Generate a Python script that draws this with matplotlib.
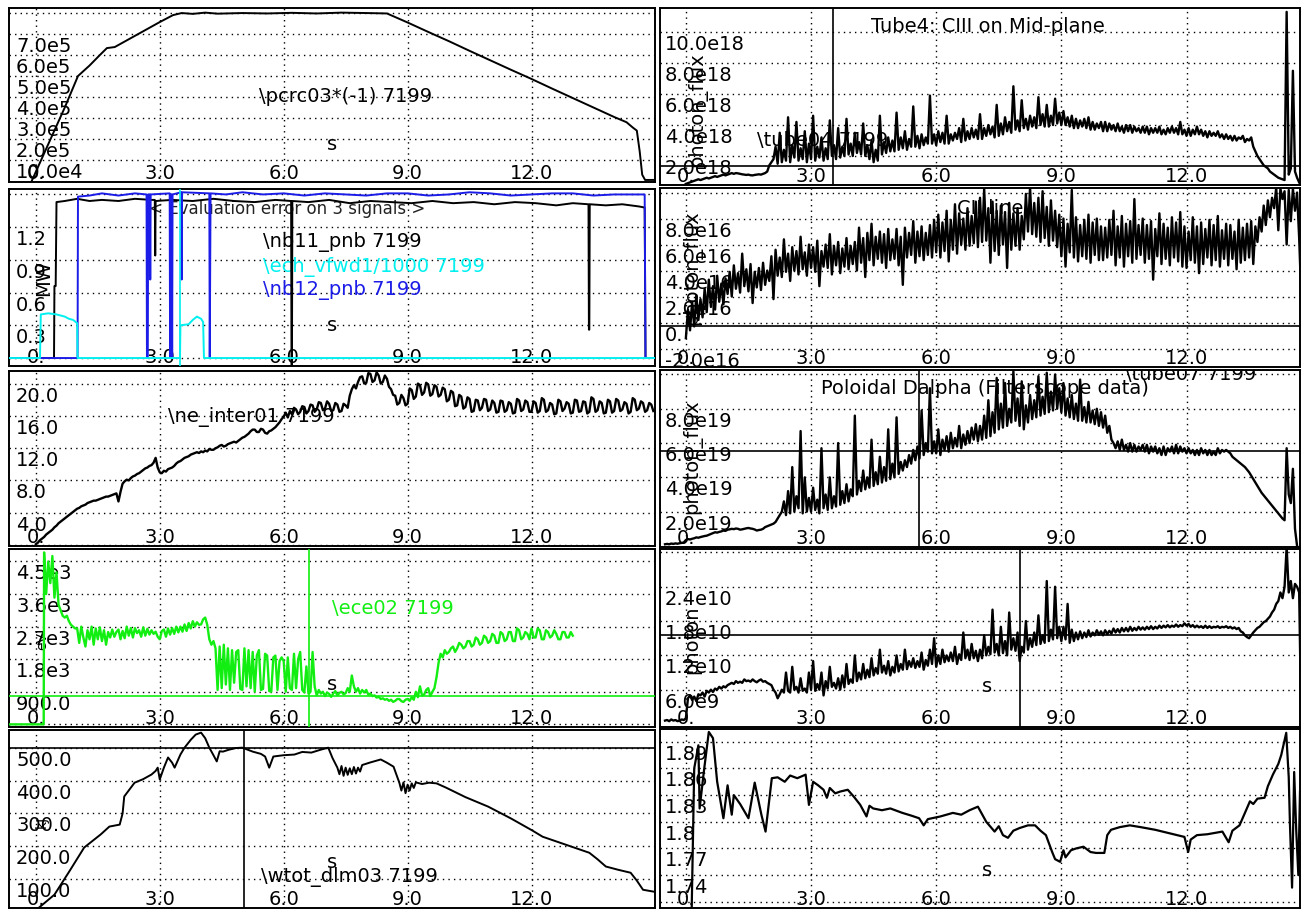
import numpy as np
import matplotlib.pyplot as plt
from matplotlib import transforms

plt.rcParams['font.family'] = ['DejaVu Sans']
plt.rcParams['font.size'] = 14

# ---------------- data ----------------
grid_t = [0, 3, 6, 9, 12]
t_labels = ['0.', '3.0', '6.0', '9.0', '12.0']
step = 0.05  # sampling of the noisy traces (s)

# row 1 left: \pcrc03*(-1)  (units 1e5)
pcrc = [(-0.1, 0), (0.3, 1.75), (0.7, 3.5), (1.02, 5.0), (1.3, 5.5), (1.55, 6.0),
        (1.72, 6.33), (1.91, 6.38), (2.35, 6.86), (3.0, 7.57), (3.32, 7.9), (3.53, 8.0),
        (3.8, 7.96), (4.1, 8.02), (4.4, 7.97), (5.0, 8.0), (5.6, 7.98), (6.2, 8.01),
        (6.8, 7.98), (7.4, 8.02), (8.0, 8.0), (8.5, 7.98), (9.0, 7.55), (9.5, 7.1),
        (10.0, 6.66), (10.5, 6.2), (11.0, 5.75), (11.5, 5.3), (12.0, 4.86), (12.5, 4.4),
        (13.0, 3.95), (13.5, 3.5), (14.0, 3.05), (14.3, 2.8), (14.45, 2.55), (14.55, 2.4),
        (14.62, 1.4), (14.68, 0.3), (14.75, 0.05), (15.0, 0.05)]
pcrc_ticks = [1, 2, 3, 4, 5, 6, 7, 8]
pcrc_ticklabels = ['10.0e4', '2.0e5', '3.0e5', '4.0e5', '5.0e5', '6.0e5', '7.0e5', '']

# row 2 left: beams (MW)
nb11 = [(-0.65, 0), (0.44, 0), (0.45, 0.66), (0.48, 0.66), (0.5, 1.43), (0.7, 1.44),
        (1.0, 1.46), (1.3, 1.44), (1.6, 1.45), (2.0, 1.44), (2.4, 1.46), (2.8, 1.45),
        (2.88, 1.45), (2.89, 0.94), (2.9, 1.44), (3.3, 1.45), (3.8, 1.44), (4.3, 1.46),
        (4.8, 1.44), (5.3, 1.43), (5.8, 1.45), (6.18, 1.44), (6.19, -0.1), (6.2, -0.1),
        (6.21, 1.44), (6.6, 1.43), (7.1, 1.45), (7.6, 1.42), (8.1, 1.44), (8.6, 1.43),
        (9.1, 1.42), (9.6, 1.44), (10.1, 1.42), (10.6, 1.43), (11.1, 1.41), (11.6, 1.43),
        (12.1, 1.42), (12.6, 1.40), (13.0, 1.42), (13.38, 1.41), (13.39, 0.26),
        (13.4, 0.26), (13.41, 1.41), (13.8, 1.40), (14.2, 1.41), (14.6, 1.39),
        (14.74, 1.38), (14.76, 0), (15.0, 0)]
nb12 = [(-0.65, 0), (1.01, 0), (1.02, 1.48), (1.3, 1.49), (1.6, 1.51), (2.0, 1.49),
        (2.4, 1.51), (2.68, 1.50), (2.69, 0), (2.71, 0), (2.72, 1.50), (2.76, 1.50),
        (2.77, 0.72), (2.78, 1.50), (3.24, 1.51), (3.25, 0), (3.26, 1.50), (3.29, 1.50),
        (3.3, 0), (3.31, 1.50), (3.52, 1.52), (3.53, 0.72), (3.54, 1.52), (4.2, 1.51),
        (4.21, 0), (4.23, 1.51), (4.6, 1.50), (5.0, 1.52), (5.5, 1.50), (6.0, 1.51),
        (6.5, 1.49), (7.0, 1.51), (7.5, 1.50), (8.0, 1.49), (8.5, 1.51), (9.0, 1.51),
        (9.5, 1.49), (10.0, 1.50), (10.5, 1.52), (11.0, 1.51), (11.5, 1.49), (12.0, 1.50),
        (12.5, 1.51), (13.0, 1.51), (13.5, 1.49), (14.0, 1.50), (14.74, 1.50),
        (14.76, 0), (15.0, 0)]
ech = [(-0.65, 0), (0.1, 0), (0.12, 0.40), (0.3, 0.41), (0.5, 0.40), (0.6, 0.39),
       (0.7, 0.38), (0.8, 0.36), (0.9, 0.35), (1.0, 0.32), (1.01, 0), (3.49, 0),
       (3.5, 0.30), (3.7, 0.31), (3.8, 0.35), (3.9, 0.38), (4.0, 0.36), (4.05, 0.33),
       (4.07, 0), (15.0, 0)]
beam_ticks = [0, 0.3, 0.6, 0.9, 1.2, 1.5]
beam_ticklabels = ['', '0.3', '0.6', '0.9', '1.2', '']

# row 3 left: \ne_inter01 from t=0
ne_start = 0.0
ne_vals = [0.1, 0.3, 0.6, 0.8, 1.0, 1.3, 1.5, 1.7, 1.9, 2.2, 2.4, 2.7, 2.9, 3.1, 3.3, 3.5, 3.7, 3.9, 4.1, 4.3,
           4.5, 4.6, 4.8, 4.9, 5.0, 5.2, 5.3, 5.4, 5.5, 5.5, 5.6, 5.7, 5.8, 5.9, 6.0, 6.0, 6.1, 6.2, 6.3, 6.4,
           5.4, 6.6, 7.6, 7.9, 8.1, 8.0, 8.3, 8.5, 8.6, 8.8, 8.9, 9.1, 9.3, 9.5, 9.6, 9.8, 9.9, 10.2, 10.8, 9.6,
           9.0, 8.9, 9.2, 9.1, 9.4, 9.5, 9.6, 9.8, 10.1, 10.3, 10.4, 10.6, 10.8, 10.9, 11.0, 11.2, 11.3, 11.4, 11.5, 11.4,
           11.6, 11.5, 11.7, 11.6, 11.9, 11.8, 11.8, 12.0, 12.1, 12.3, 12.4, 12.2, 12.3, 12.5, 12.6, 12.7, 12.8, 12.7, 12.9, 13.1,
           13.3, 13.4, 13.6, 13.8, 14.1, 14.3, 14.3, 14.0, 14.0, 14.4, 14.3, 13.9, 13.8, 14.1, 14.2, 14.4, 14.6, 14.9, 15.2, 15.6,
           15.9, 16.4, 15.8, 16.6, 16.2, 17.0, 16.8, 16.2, 16.5, 17.2, 17.1, 16.3, 16.6, 17.4, 17.3, 16.5, 16.8, 17.7, 17.6, 16.7,
           16.9, 17.8, 17.5, 16.6, 16.7, 17.6, 17.4, 16.5, 16.6, 17.5, 17.3, 17.0, 18.5, 19.3, 19.8, 19.4, 20.2, 20.8, 20.9, 20.0,
           20.1, 21.3, 21.2, 20.2, 20.4, 21.4, 21.0, 20.0, 20.2, 21.0, 20.6, 19.6, 19.3, 18.6, 18.5, 17.4, 17.6, 18.6, 18.2, 17.3,
           17.5, 19.4, 19.2, 18.1, 18.4, 20.0, 19.8, 18.6, 18.9, 20.1, 19.9, 18.5, 18.7, 19.8, 19.6, 18.4, 18.6, 19.5, 19.3, 17.8,
           18.0, 19.1, 18.9, 17.2, 17.3, 18.6, 18.4, 16.9, 17.1, 18.3, 18.1, 16.5, 16.6, 18.0, 17.9, 16.7, 17.0, 18.1, 18.0, 16.6,
           16.8, 17.9, 17.6, 16.4, 16.5, 17.9, 17.8, 16.5, 16.7, 17.7, 17.5, 16.3, 16.4, 18.1, 17.9, 16.6, 16.8, 17.9, 17.7, 16.5,
           16.5, 17.8, 17.6, 16.4, 16.6, 18.2, 18.0, 16.5, 16.7, 17.6, 17.4, 16.2, 16.3, 18.0, 17.8, 16.6, 16.9, 17.7, 17.5, 16.3,
           16.4, 18.0, 17.9, 16.5, 16.6, 17.8, 17.7, 16.3, 16.5, 18.3, 18.1, 16.5, 16.7, 17.8, 17.6, 16.3, 16.4, 18.0, 17.8, 16.4,
           16.6, 18.1, 17.9, 16.6, 16.8, 17.7, 17.5, 16.3, 16.5, 18.2, 18.0, 16.7, 16.9, 17.8, 17.6, 16.5, 16.7, 17.6, 17.4, 16.6]
ne_ticks = [0, 4, 8, 12, 16, 20]
ne_ticklabels = ['', '4.0', '8.0', '12.0', '16.0', '20.0']

# row 4 left: \ece02 (eV) from t=0.2
ece_pre = [(-0.65, 0), (0.19, 0)]
ece_start = 0.2
ece_vals = [4750, 3600, 4500, 3900, 4650, 3500, 4200, 3300, 3150, 3000, 2950, 3000, 2850, 2750, 2700, 2650,
            2650, 2250, 2700, 2400, 2150, 2600, 2350, 2700, 2200, 2650, 2350, 2680, 2300, 2600, 2200, 2550, 2400, 2620, 2420, 2550,
            2620, 2350, 2580, 2380, 2700, 2450, 2660, 2400, 2660, 2520, 2600, 2420, 2680, 2450, 2640, 2480, 2600, 2500, 2560, 2420,
            2350, 2580, 2620, 2420, 2650, 2480, 2660, 2500, 2700, 2540, 2700, 2560, 2760, 2580, 2800, 2650, 2850, 2700, 2820, 2750,
            2760, 2900, 2950, 2750, 2350, 2200, 2300, 2100, 950, 2150, 1000, 2200, 1100, 2100, 950, 2050, 1150, 2000, 2050, 980,
            950, 2100, 1050, 2050, 1000, 2000, 900, 1900, 2050, 950, 980, 1950, 1900, 920, 900, 1850, 1900, 950, 1750, 1850,
            1750, 900, 1850, 1000, 950, 1950, 1000, 1800, 2000, 950, 880, 1600, 850, 900, 2000, 1050, 800, 950, 850, 900,
            780, 880, 840, 760, 850, 920, 800, 870, 900, 830, 860, 1000, 900, 1350, 1050, 900, 1000, 850, 950, 880,
            950, 820, 850, 780, 800, 740, 760, 700, 720, 680, 700, 650, 680, 620, 650, 700, 700, 640, 620, 680,
            700, 650, 750, 680, 900, 750, 1050, 800, 820, 950, 1000, 780, 900, 1000, 1300, 1700, 1950, 1850, 2050, 1950,
            2000, 2100, 2150, 2000, 2100, 2250, 2200, 2100, 2150, 2300, 2300, 2150, 2200, 2400, 2350, 2200, 2250, 2450, 2400, 2250,
            2300, 2500, 2450, 2250, 2250, 2550, 2500, 2300, 2350, 2550, 2550, 2300, 2300, 2650, 2600, 2350, 2400, 2550, 2500, 2350,
            2650, 2400, 2400, 2650, 2600, 2350, 2350, 2600, 2550, 2400, 2450, 2600, 2500, 2350, 2350, 2550, 2550, 2400, 2400, 2550,
            2450]
ece_ticks = [0, 900, 1800, 2700, 3600, 4500]
ece_ticklabels = ['', '900.0', '1.8e3', '2.7e3', '3.6e3', '4.5e3']

# row 5 left: \wtot_dlm03 (kJ)
wtot = [(-0.65, 0), (0.0, 5), (0.1, 15), (0.45, 52), (0.81, 123), (1.17, 196),
        (1.57, 236), (1.78, 260), (2.03, 266), (2.1, 300), (2.14, 352), (2.39, 394),
        (2.6, 405), (2.8, 419), (2.9, 430), (2.95, 440), (3.0, 404), (3.1, 440),
        (3.2, 471), (3.3, 455), (3.36, 440), (3.5, 480), (3.6, 501), (3.75, 525),
        (3.87, 541), (4.0, 547), (4.1, 530), (4.2, 501), (4.3, 478), (4.38, 459),
        (4.45, 490), (4.53, 489), (4.68, 495), (4.85, 500), (5.0, 501), (5.25, 489),
        (5.45, 482), (5.55, 474), (5.65, 440), (5.75, 474), (6.0, 478), (6.26, 480),
        (6.45, 488), (6.67, 486), (6.9, 495), (7.08, 501), (7.18, 470), (7.3, 440),
        (7.35, 420), (7.4, 445), (7.45, 415), (7.5, 440), (7.55, 418), (7.6, 438),
        (7.65, 420), (7.7, 442), (7.75, 422), (7.8, 440), (7.85, 428), (7.9, 448),
        (8.1, 456), (8.35, 465), (8.5, 455), (8.66, 443), (8.8, 394), (8.85, 370),
        (8.9, 395), (8.95, 362), (9.0, 388), (9.05, 370), (9.1, 392), (9.15, 378),
        (9.2, 395), (9.35, 390), (9.52, 394), (9.7, 392), (9.93, 379), (10.4, 350),
        (10.95, 321), (11.5, 285), (12.02, 248), (12.27, 229), (12.8, 206),
        (13.4, 180), (13.6, 160), (13.8, 138), (14.1, 128), (14.4, 119), (14.55, 95),
        (14.7, 67), (14.97, 61)]
wtot_ticks = [100, 200, 300, 400, 500]
wtot_ticklabels = ['100.0', '200.0', '300.0', '400.0', '500.0']

# row 1 right: Tube4 CIII (1e18) from t=0
ciii_start = 0.0
ciii_vals = [0.2, 0.25, 0.3, 0.35, 0.4, 0.45, 0.5, 0.45, 0.5, 0.55, 0.6, 0.55, 0.6, 0.65, 0.7, 0.65, 0.7, 0.75, 0.8, 0.75,
             0.8, 0.85, 0.9, 0.85, 0.9, 0.88, 0.85, 0.82, 0.8, 0.78, 0.8, 0.76, 0.75, 0.78, 0.8, 0.82, 0.8, 0.85, 0.9, 1.0,
             1.4, 1.6, 1.8, 2.6, 1.5, 3.5, 1.6, 2.4, 1.7, 4.5, 1.6, 2.7, 1.9, 4.2, 1.7, 2.5, 1.8, 3.6, 1.6, 2.8,
             1.8, 4.6, 1.7, 2.6, 1.9, 3.2, 1.7, 2.5, 1.8, 4.3, 2.0, 2.7, 1.8, 3.8, 1.9, 2.6, 2.0, 4.4, 2.1, 2.8,
             2.0, 3.5, 2.2, 2.9, 2.1, 4.1, 2.0, 2.7, 1.8, 3.0, 1.6, 2.4, 1.7, 4.6, 2.1, 2.9, 2.2, 3.2, 2.3, 3.0,
             2.3, 4.8, 2.4, 3.2, 2.5, 3.6, 2.4, 3.1, 2.6, 5.2, 2.6, 3.3, 2.5, 3.4, 2.7, 3.2, 2.8, 5.9, 2.8, 3.4,
             2.7, 3.6, 2.9, 3.5, 2.8, 4.6, 2.8, 3.4, 3.0, 3.5, 3.1, 3.8, 2.9, 4.4, 3.0, 3.6, 3.1, 3.8, 3.2, 3.7,
             3.1, 4.7, 3.1, 3.8, 3.3, 4.0, 3.4, 3.9, 3.2, 5.3, 3.3, 4.1, 3.4, 4.5, 3.6, 4.2, 3.5, 6.5, 3.7, 4.3,
             3.6, 5.6, 3.8, 4.4, 3.7, 4.6, 3.9, 4.5, 3.8, 5.8, 4.0, 4.7, 3.9, 5.3, 3.9, 4.6, 4.0, 5.7, 4.1, 4.8,
             4.0, 4.9, 4.0, 4.5, 3.9, 4.6, 3.8, 4.4, 3.8, 4.3, 3.9, 4.4, 3.8, 4.5, 3.7, 4.2, 3.7, 4.1, 3.8, 4.2,
             3.6, 4.2, 3.6, 4.1, 3.7, 4.0, 3.6, 4.1, 3.6, 3.9, 3.5, 4.0, 3.6, 4.0, 3.5, 3.9, 3.6, 3.8, 3.5, 3.9,
             3.5, 3.9, 3.4, 3.8, 3.5, 3.8, 3.5, 3.9, 3.4, 3.7, 3.4, 3.8, 3.5, 3.9, 3.5, 3.8, 3.4, 4.2, 3.4, 3.7,
             3.3, 3.8, 3.3, 3.7, 3.4, 3.9, 3.4, 3.7, 3.3, 3.6, 3.2, 3.6, 3.3, 3.5, 3.3, 3.6, 3.2, 3.4, 3.1, 3.4,
             3.1, 3.3, 3.0, 3.3, 3.0, 3.2, 3.1, 3.3, 2.9, 3.1, 3.0, 3.2, 2.6, 2.3, 2.0, 1.8, 1.6, 1.4, 1.3, 1.2,
             1.0, 0.9, 0.8, 0.7, 0.6, 0.55, 0.5, 0.45, 11.3, 0.8, 1.2, 7.5, 1.0, 0.6, 0.3]
ciii_ticks = [2, 4, 6, 8, 10]
ciii_ticklabels = ['2.0e18', '4.0e18', '6.0e18', '8.0e18', '10.0e18']

# row 2 right: CII line (1e16) from t=0
cii_start = 0.0
cii_vals = [-1.2, 1.0, -0.6, 1.6, -0.3, 2.1, 0.2, 1.8, 0.4, 2.6, 0.8, 3.3, 1.2, 2.8, 1.0, 3.6, 1.6, 3.0, 1.4, 3.4,
            2.2, 3.9, 2.0, 4.4, 2.6, 3.8, 2.3, 5.3, 2.8, 4.1, 2.4, 4.5, 1.5, 3.9, 2.7, 4.2, 2.5, 4.6, 2.9, 4.0,
            3.2, 5.1, 1.8, 5.6, 3.6, 5.0, 3.5, 6.4, 3.9, 5.3, 3.2, 5.8, 4.0, 5.5, 3.7, 6.6, 4.1, 5.4, 3.6, 6.0,
            4.2, 5.8, 3.9, 6.3, 2.8, 5.5, 4.3, 6.0, 4.2, 6.8, 3.7, 5.9, 4.4, 6.2, 3.8, 5.7, 4.3, 6.5, 4.1, 5.9,
            4.5, 6.2, 4.0, 7.3, 4.6, 6.5, 3.5, 6.9, 4.8, 7.6, 4.4, 6.6, 4.9, 7.0, 4.6, 6.8, 4.2, 7.2, 4.8, 6.4,
            4.9, 7.2, 4.4, 6.6, 2.9, 7.3, 5.0, 6.9, 5.2, 7.8, 4.6, 7.0, 5.1, 7.4, 4.8, 6.9, 5.2, 7.5, 5.0, 7.9,
            5.4, 8.3, 5.0, 7.7, 5.5, 8.6, 4.7, 7.9, 5.6, 9.1, 5.3, 8.4, 6.0, 8.0, 5.6, 8.8, 5.9, 8.2, 6.1, 9.3,
            5.8, 9.6, 6.2, 10.3, 6.3, 8.8, 4.6, 9.3, 5.5, 8.6, 5.2, 9.0, 6.0, 8.5, 4.2, 9.2, 5.6, 8.4, 5.9, 8.8,
            5.6, 8.2, 6.4, 9.9, 7.0, 10.4, 6.8, 9.2, 6.6, 9.6, 6.2, 10.1, 6.5, 8.9, 5.9, 9.4, 6.3, 8.6, 5.8, 8.3,
            5.1, 8.0, 4.3, 7.6, 5.4, 10.2, 5.0, 8.1, 4.7, 7.5, 5.1, 7.9, 4.9, 8.3, 4.6, 7.7, 5.2, 8.0, 4.8, 7.4,
            4.8, 7.3, 5.0, 7.9, 5.2, 8.6, 4.4, 7.4, 5.0, 8.2, 4.3, 7.6, 5.1, 7.8, 4.6, 9.5, 4.9, 7.5, 5.2, 8.0,
            4.6, 7.5, 4.9, 7.8, 3.3, 7.2, 5.1, 8.4, 4.5, 7.6, 4.9, 7.3, 4.4, 8.1, 5.0, 7.7, 4.7, 8.5, 4.3, 7.4,
            4.2, 7.0, 4.8, 8.1, 4.6, 7.4, 3.8, 7.7, 4.5, 7.2, 5.0, 7.9, 4.4, 7.5, 4.8, 8.2, 4.3, 7.1, 4.9, 7.6,
            4.4, 7.5, 4.9, 7.0, 4.1, 7.9, 4.6, 7.3, 4.8, 7.6, 5.0, 7.8, 4.5, 7.4, 6.2, 8.1, 7.0, 9.0, 7.5, 9.4,
            8.1, 9.6, 8.8, 10.4, 7.1, 10.3, 9.5, 10.1, 6.0, 10.2, 7.8, 10.3, 8.6, 10.0, 6.5, 2.0]
cii_tail = [(14.8, -0.2)]
cii_ticks = [-2, 0, 2, 4, 6, 8, 10]
cii_ticklabels = ['-2.0e16', '0.', '2.0e16', '4.0e16', '6.0e16', '8.0e16', '']

# row 3 right: Poloidal Dalpha (1e19) from t=-0.5
dal_start = -0.5
dal_vals = [0.1, 0.12, 0.1, 0.14, 0.12, 0.15, 0.13, 0.16, 0.18, 0.2,
            0.35, 0.4, 0.38, 0.42, 0.45, 0.5, 0.48, 0.52, 0.55, 0.58, 0.6, 0.65, 0.7, 0.75, 0.8, 0.78, 0.82, 0.85, 0.9, 0.88,
            0.95, 0.97, 1.0, 0.98, 1.02, 1.0, 0.95, 0.97, 1.0, 1.03, 1.05, 1.02, 1.0, 0.96, 0.9, 0.93, 0.95, 1.0, 1.1, 1.15,
            1.2, 1.25, 1.3, 1.4, 1.6, 1.8, 2.0, 2.6, 1.8, 3.2, 1.9, 4.6, 2.0, 2.9, 2.2, 6.7, 1.9, 4.0, 2.0, 2.8,
            2.0, 3.4, 2.1, 2.7, 1.9, 5.7, 2.2, 3.0, 2.1, 4.0, 2.2, 2.9, 2.3, 6.0, 2.4, 3.2, 2.5, 3.6, 2.6, 3.3,
            2.9, 7.6, 3.0, 3.8, 3.2, 4.4, 3.3, 4.0, 3.4, 6.2, 3.5, 4.3, 3.6, 5.2, 3.7, 4.6, 3.8, 6.8, 3.9, 4.8,
            4.0, 7.5, 4.2, 4.9, 4.4, 5.0, 4.6, 5.3, 4.8, 5.6, 5.0, 5.8, 5.1, 7.9, 5.3, 6.0, 5.5, 9.2, 5.4, 6.1,
            5.4, 6.8, 5.3, 6.2, 5.6, 6.4, 5.5, 6.6, 5.7, 6.3, 5.8, 7.0, 5.7, 6.5, 5.9, 6.7, 6.0, 6.9, 6.2, 7.1,
            6.1, 7.0, 6.2, 7.6, 6.3, 8.5, 6.4, 7.8, 6.6, 9.8, 6.8, 8.3, 6.9, 9.5, 7.0, 8.0, 7.2, 10.2, 7.3, 8.6,
            7.0, 9.6, 6.8, 8.2, 7.2, 8.8, 7.4, 8.5, 7.5, 9.9, 7.6, 8.7, 7.7, 10.1, 7.8, 9.0, 7.9, 10.0, 8.0, 9.2,
            7.8, 9.5, 7.6, 8.6, 7.5, 8.8, 7.4, 8.3, 7.3, 9.7, 7.3, 8.1, 7.2, 8.4, 7.2, 7.9, 7.1, 8.0, 7.0, 7.8,
            6.9, 7.6, 6.6, 7.0, 6.2, 6.0, 5.7, 6.1, 5.6, 6.2, 5.6, 5.9, 5.5, 6.0, 5.5, 5.9, 5.5, 5.8, 5.6, 5.9,
            5.5, 5.9, 5.4, 5.8, 5.5, 5.8, 5.4, 5.7, 5.3, 5.8, 5.3, 5.7, 5.5, 5.8, 5.4, 5.9, 5.4, 5.8, 5.5, 5.7,
            5.4, 5.7, 5.4, 5.6, 5.3, 5.6, 5.3, 5.7, 5.4, 5.6, 5.3, 5.6, 5.3, 5.5, 5.3, 5.7, 5.4, 5.6, 5.5, 5.6,
            5.5, 5.4, 5.2, 5.1, 5.0, 4.9, 4.8, 4.7, 4.6, 4.45, 4.3, 4.1, 3.9, 3.7, 3.5, 3.3, 3.1, 2.95, 2.8, 2.65,
            2.5, 2.35, 2.2, 2.05, 1.9, 1.75, 1.6, 1.5, 5.7, 3.0, 2.5, 4.5, 1.0, 0.0]
dal_ticks = [2, 4, 6, 8, 10]
dal_ticklabels = ['2.0e19', '4.0e19', '6.0e19', '8.0e19', '']

# row 4 right: photon (1e10) from t=-0.5
ph_start = -0.5
ph_vals = [0.06, 0.07, 0.05, 0.08, 0.06, 0.07, 0.05, 0.06, 0.08, 0.07,
           0.1, 0.45, 0.5, 0.42, 0.48, 0.4, 0.52, 0.5, 0.55, 0.48, 0.58, 0.55, 0.6, 0.56, 0.62, 0.6, 0.65, 0.62, 0.66, 0.64,
           0.68, 0.7, 0.72, 0.7, 0.75, 0.72, 0.74, 0.72, 0.78, 0.75, 0.76, 0.74, 0.78, 0.75, 0.73, 0.76, 0.78, 0.74, 0.75, 0.72,
           0.7, 0.68, 0.6, 0.55, 0.45, 0.52, 0.6, 0.55, 0.9, 0.58, 0.55, 1.0, 0.6, 0.65, 0.55, 0.8, 0.58, 0.62, 0.55, 0.9,
           0.6, 1.1, 0.58, 0.7, 0.6, 0.9, 0.5, 0.75, 0.62, 1.0, 0.65, 0.72, 0.62, 0.8, 0.6, 0.85, 0.64, 1.05, 0.7, 0.78,
           0.72, 1.2, 0.75, 0.9, 0.78, 1.05, 0.8, 0.95, 0.82, 1.15, 0.85, 0.98, 0.88, 1.3, 0.9, 1.02, 0.88, 1.1, 0.85, 1.0,
           0.9, 1.2, 0.92, 1.05, 0.95, 1.3, 0.96, 1.1, 1.0, 1.15, 0.98, 1.1, 1.0, 1.25, 0.95, 1.12, 1.02, 1.3, 1.05, 1.5,
           1.0, 1.2, 1.05, 1.3, 1.08, 1.2, 1.1, 1.25, 1.1, 1.35, 1.05, 1.22, 1.12, 1.6, 1.15, 1.3, 1.12, 1.4, 1.15, 1.28,
           1.1, 1.3, 1.15, 1.55, 1.2, 1.35, 1.22, 2.0, 1.25, 1.4, 1.2, 1.7, 1.24, 1.45, 1.2, 1.95, 1.3, 1.5, 1.28, 1.6,
           1.1, 1.35, 1.25, 1.8, 1.3, 1.5, 1.35, 1.6, 1.38, 1.9, 1.4, 1.55, 1.42, 2.5, 1.45, 1.65, 1.48, 2.4, 1.5, 1.7,
           1.45, 1.7, 1.48, 2.1, 1.42, 1.65, 1.45, 1.6, 1.48, 1.62, 1.5, 1.6, 1.52, 1.64, 1.53, 1.6, 1.55, 1.64, 1.56, 1.62,
           1.55, 1.64, 1.57, 1.63, 1.58, 1.67, 1.6, 1.66, 1.6, 1.68, 1.62, 1.68, 1.62, 1.7, 1.63, 1.68, 1.64, 1.7, 1.65, 1.69,
           1.65, 1.7, 1.66, 1.71, 1.66, 1.7, 1.67, 1.72, 1.68, 1.72, 1.69, 1.73, 1.69, 1.72, 1.7, 1.74, 1.7, 1.73, 1.71, 1.76,
           1.72, 1.75, 1.7, 1.73, 1.69, 1.72, 1.69, 1.71, 1.68, 1.72, 1.68, 1.71, 1.68, 1.7, 1.69, 1.71, 1.68, 1.7, 1.69, 1.71,
           1.68, 1.7, 1.67, 1.69, 1.66, 1.68, 1.62, 1.6, 1.55, 1.52, 1.5, 1.55, 1.6, 1.64, 1.68, 1.7, 1.74, 1.78, 1.8, 1.84,
           1.88, 1.95, 2.0, 2.1, 2.15, 2.3, 2.2, 2.4, 3.1, 2.3, 2.5, 2.2, 2.45, 2.4, 2.3, 0.0]
ph_ticks = [0.6, 1.2, 1.8, 2.4, 3.0]
ph_ticklabels = ['6.0e9', '1.2e10', '1.8e10', '2.4e10', '']

# row 5 right: ratio signal
ratio = [(0.14, 1.703), (0.2, 1.86), (0.3, 1.886), (0.33, 1.815), (0.43, 1.856),
         (0.55, 1.901), (0.65, 1.894), (0.75, 1.845), (0.9, 1.804), (1.0, 1.841),
         (1.1, 1.808), (1.15, 1.83), (1.3, 1.82), (1.5, 1.804), (1.65, 1.844),
         (1.81, 1.808), (1.91, 1.789), (2.06, 1.849), (2.2, 1.85), (2.37, 1.845),
         (2.5, 1.852), (2.67, 1.849), (2.87, 1.853), (2.95, 1.819), (3.05, 1.845),
         (3.17, 1.841), (3.3, 1.836), (3.38, 1.827), (3.45, 1.838), (3.58, 1.832),
         (3.7, 1.834), (3.88, 1.836), (4.03, 1.828), (4.18, 1.819), (4.33, 1.806),
         (4.4, 1.818), (4.49, 1.815), (4.7, 1.813), (4.9, 1.815), (5.19, 1.81),
         (5.4, 1.807), (5.59, 1.804), (5.7, 1.796), (5.8, 1.803), (6.1, 1.806),
         (6.4, 1.81), (6.6, 1.808), (6.8, 1.813), (7.0, 1.817), (7.2, 1.80),
         (7.4, 1.789), (7.5, 1.795), (7.6, 1.785), (7.72, 1.782), (7.85, 1.79),
         (8.0, 1.793), (8.2, 1.796), (8.37, 1.796), (8.5, 1.79), (8.63, 1.785),
         (8.78, 1.766), (8.85, 1.758), (8.97, 1.755), (9.05, 1.768), (9.1, 1.76),
         (9.23, 1.768), (9.35, 1.77), (9.53, 1.772), (9.7, 1.766), (9.83, 1.765),
         (10.03, 1.765), (10.1, 1.785), (10.19, 1.791), (10.4, 1.794), (10.64, 1.796),
         (10.9, 1.794), (11.25, 1.791), (11.6, 1.787), (11.95, 1.783), (12.04, 1.766),
         (12.1, 1.78), (12.25, 1.785), (12.5, 1.786), (12.86, 1.789), (13.01, 1.777),
         (13.1, 1.79), (13.27, 1.796), (13.4, 1.81), (13.52, 1.823), (13.6, 1.82),
         (13.7, 1.826), (13.87, 1.827), (13.95, 1.84), (14.07, 1.853), (14.2, 1.865),
         (14.27, 1.875), (14.39, 1.9), (14.45, 1.85), (14.48, 1.796), (14.53, 1.726),
         (14.58, 1.856), (14.63, 1.79), (14.68, 1.74), (14.72, 1.834)]
ratio_ticks = [1.71, 1.74, 1.77, 1.80, 1.83, 1.86, 1.89]
ratio_ticklabels = ['', '1.74', '1.77', '1.8', '1.83', '1.86', '1.89']

# ---------------- layout ----------------
W, H = 1301, 910
fig = plt.figure(figsize=(W / 100, H / 100), dpi=100)

BLUE = '#1c1ce8'
CYAN = '#00f0f0'
GREEN = '#12ee12'


def panel(xs, ys, xlim, ylim, ticks, ticklabels, dx):
    x0, x1 = xs
    y0, y1 = ys
    ax = fig.add_axes([x0 / W, 1 - y1 / H, (x1 - x0) / W, (y1 - y0) / H])
    ax.set_xlim(*xlim)
    ax.set_ylim(*ylim)
    ax.set_xticks(grid_t)
    ax.set_yticks(ticks)
    ax.tick_params(length=0, labelbottom=False, labelleft=False)
    ax.grid(True, color='black', linestyle=(0, (1, 3)), linewidth=1.0)
    ax.set_axisbelow(True)
    for sp in ax.spines.values():
        sp.set_linewidth(1.4)
    ytr = transforms.offset_copy(ax.get_yaxis_transform(), fig=fig, x=dx, y=-3, units='dots')
    for v, s in zip(ticks, ticklabels):
        ax.text(0, v, s, transform=ytr, ha='left', va='top', zorder=1)
    xtr = transforms.offset_copy(ax.get_xaxis_transform(), fig=fig, y=3, units='dots')
    for t, s in zip(grid_t, t_labels):
        ax.text(t, 0, s, transform=xtr, ha='center', va='baseline', zorder=1)
    return ax


def ptext(ax, px, py, s, **kw):
    return ax.text(px / W, 1 - py / H, s, transform=fig.transFigure, zorder=1, **kw)


def pairs(ax, pts, **kw):
    t, v = zip(*pts)
    ax.plot(t, v, zorder=3, **kw)


def sampled(ax, start, vals, extra=None, pre=None, **kw):
    t = list(start + step * np.arange(len(vals)))
    v = list(vals)
    if pre:
        t = [p[0] for p in pre] + t
        v = [p[1] for p in pre] + v
    if extra:
        t += [p[0] for p in extra]
        v += [p[1] for p in extra]
    ax.plot(t, v, zorder=3, **kw)


LX = (9, 655)
RX = (660, 1300)
XL = (-0.65, 14.99)
XR = (-0.62, 14.72)
LW = 1.4   # smooth traces
NW = 1.7   # noisy traces

# left column
a1 = panel(LX, (8, 182), XL, (-0.048, 8.24), pcrc_ticks, pcrc_ticklabels, 7)
pairs(a1, pcrc, color='black', lw=LW)
ptext(a1, 259, 97, '\\pcrc03*(-1) 7199', ha='left', va='center')
ptext(a1, 332, 145, 's', ha='center', va='center')

a2 = panel(LX, (189, 366), XL, (-0.073, 1.55), beam_ticks, beam_ticklabels, 7)
pairs(a2, nb11, color='black', lw=LW)
pairs(a2, nb12, color=BLUE, lw=LW)
pairs(a2, ech, color=CYAN, lw=LW)
a2.axvline(3.49, color=CYAN, lw=1.2, zorder=3)
ptext(a2, 287, 209, '< Evaluation error on 3 signals >', ha='center', va='center',
      color='#222222', fontsize=12)
ptext(a2, 263, 242, '\\nb11_pnb 7199', ha='left', va='center', color='black')
ptext(a2, 263, 267, '\\ech_vfwd1/1000 7199', ha='left', va='center', color=CYAN)
ptext(a2, 263, 290, '\\nb12_pnb 7199', ha='left', va='center', color=BLUE)
ptext(a2, 332, 325, 's', ha='center', va='center')
ptext(a2, 44, 278, 'MW', ha='center', va='center', rotation=90)

a3 = panel(LX, (371, 546), XL, (-0.12, 21.56), ne_ticks, ne_ticklabels, 7)
sampled(a3, ne_start, ne_vals, color='black', lw=NW)
ptext(a3, 168, 417, '\\ne_inter01 7199', ha='left', va='center')

a4 = panel(LX, (549, 727), XL, (-73, 4844), ece_ticks, ece_ticklabels, 7)
sampled(a4, ece_start, ece_vals, pre=ece_pre, color=GREEN, lw=NW)
a4.axhline(770, color=GREEN, lw=1.2, zorder=3)
a4.axvline(6.61, color=GREEN, lw=1.2, zorder=3)
ptext(a4, 332, 608, '\\ece02 7199', ha='left', va='center', color=GREEN)
ptext(a4, 332, 684, 's', ha='center', va='center')
ptext(a4, 42, 641, 'eV', ha='center', va='center', rotation=90, fontsize=10)

a5 = panel(LX, (730, 908), XL, (11.3, 555), wtot_ticks, wtot_ticklabels, 7)
pairs(a5, wtot, color='black', lw=LW)
a5.axhline(500, color='black', lw=1.2, zorder=3)
a5.axvline(5.04, color='black', lw=1.2, zorder=3)
ptext(a5, 261, 877, '\\wtot_dlm03 7199', ha='left', va='center')
ptext(a5, 332, 862, 's', ha='center', va='center')
ptext(a5, 42, 822, 'kJ', ha='center', va='center', rotation=90, fontsize=10)

# right column
b1 = panel(RX, (8, 185), XR, (0.13, 11.55), ciii_ticks, ciii_ticklabels, 5)
sampled(b1, ciii_start, ciii_vals, color='black', lw=NW)
b1.axhline(1.35, color='black', lw=1.2, zorder=3)
b1.axvline(3.53, color='black', lw=1.2, zorder=3)
ptext(b1, 988, 27, 'Tube4: CIII on Mid-plane', ha='center', va='center')
ptext(b1, 757, 141, '\\tube04 7199', ha='left', va='center')
ptext(b1, 697, 110, 'photon_flux', ha='center', va='center', rotation=90)

b2 = panel(RX, (188, 367), XR, (-3.42, 10.35), cii_ticks, cii_ticklabels, 5)
sampled(b2, cii_start, cii_vals, extra=cii_tail, color='black', lw=NW)
b2.axhline(-0.27, color='black', lw=1.2, zorder=3)
ptext(b2, 990, 209, 'CII line', ha='center', va='center')
ptext(b2, 692, 268, 'photon_flux', ha='center', va='center', rotation=90)

b3 = panel(RX, (370, 547), XR, (-0.06, 10.26), dal_ticks, dal_ticklabels, 5)
sampled(b3, dal_start, dal_vals, color='black', lw=NW)
b3.axhline(5.54, color='black', lw=1.2, zorder=3)
b3.axvline(5.59, color='black', lw=1.2, zorder=3)
ptext(b3, 985, 388, 'Poloidal Dalpha (Filterscope data)', ha='center', va='center')
ptext(b3, 1125, 374, '\\tube07 7199', ha='left', va='center', clip_on=True)
ptext(b3, 692, 457, 'photon_flux', ha='center', va='center', rotation=90)

b4 = panel(RX, (549, 727), XR, (-0.052, 3.06), ph_ticks, ph_ticklabels, 5)
sampled(b4, ph_start, ph_vals, color='black', lw=NW)
b4.axhline(1.557, color='black', lw=1.2, zorder=3)
b4.axvline(8.01, color='black', lw=1.2, zorder=3)
ptext(b4, 987, 687, 's', ha='center', va='center')
ptext(b4, 692, 640, 'photon', ha='center', va='center', rotation=90)

b5 = panel(RX, (729, 908), XR, (1.7031, 1.9043), ratio_ticks, ratio_ticklabels, 5)
pairs(b5, ratio, color='black', lw=1.6)
ptext(b5, 987, 870, 's', ha='center', va='center')

fig.savefig('out.png', dpi=100)
